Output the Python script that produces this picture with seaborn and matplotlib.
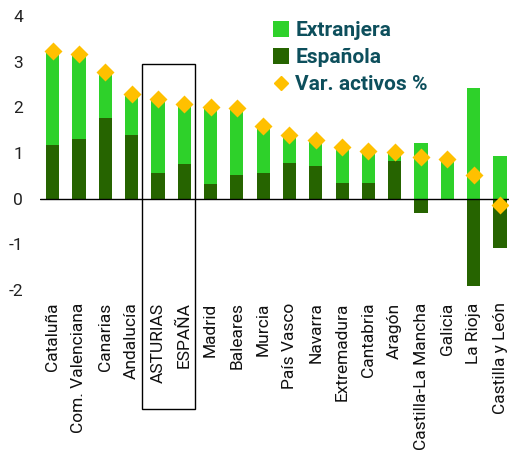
import numpy as np
import pandas as pd
import seaborn as sns
import matplotlib.pyplot as plt
from matplotlib.patches import Rectangle, Patch
from matplotlib.lines import Line2D

# ── Data ─────────────────────────────────────────────────────────────────
regiones = [
    "Cataluña", "Com. Valenciana", "Canarias", "Andalucía", "ASTURIAS",
    "ESPAÑA", "Madrid", "Baleares", "Murcia", "País Vasco", "Navarra",
    "Extremadura", "Cantabria", "Aragón", "Castilla-La Mancha", "Galicia",
    "La Rioja", "Castilla y León",
]
espanola = [1.18, 1.30, 1.76, 1.40, 0.56, 0.75, 0.32, 0.52, 0.56, 0.77,
            0.72, 0.35, 0.35, 0.82, -0.31, -0.02, -1.92, -1.08]
extranjera = [2.04, 1.86, 1.00, 0.89, 1.62, 1.32, 1.69, 1.46, 1.02, 0.63,
              0.57, 0.78, 0.71, 0.20, 1.22, 0.88, 2.41, 0.94]
var_activos = [3.22, 3.16, 2.76, 2.29, 2.18, 2.07, 2.01, 1.98, 1.58, 1.40,
               1.29, 1.13, 1.05, 1.02, 0.91, 0.86, 0.51, -0.14]

C_EXT = "#2ed12a"
C_ESP = "#266400"
C_VAR = "#ffc000"
C_LEG = "#0d4f5c"

df = pd.DataFrame({
    "region": regiones,
    "esp": espanola,
    "ext": extranjera,
    "var": var_activos,
})
# stacked look: light bar spans ext on top of positive esp
df["ext_top"] = df["ext"] + df["esp"].clip(lower=0)

sns.set_style("white")
plt.rcParams["font.family"] = ["Roboto", "DejaVu Sans"]
plt.rcParams["axes.unicode_minus"] = False

fig = plt.figure(figsize=(5.1, 4.53), dpi=100)
ax = fig.add_axes([0.078, 0.36, 0.922, 0.605])

sns.barplot(data=df, x="region", y="ext_top", color=C_EXT, width=0.5,
            saturation=1, linewidth=0, ax=ax)
sns.barplot(data=df, x="region", y="esp", color=C_ESP, width=0.5,
            saturation=1, linewidth=0, ax=ax)
sns.pointplot(data=df, x="region", y="var", color=C_VAR, marker="D",
              linestyle="none", markersize=7, ax=ax, zorder=5)

ax.axhline(0, color="black", lw=1.0, zorder=4)
ax.set_ylim(-2, 4)
ax.set_xlim(-0.49, 17.38)
ax.set_yticks(range(-2, 5))
ax.set_xlabel("")
ax.set_ylabel("")
for s in ax.spines.values():
    s.set_visible(False)
ax.tick_params(axis="y", length=0, labelsize=12.5, labelcolor="#222222", pad=12)
ax.tick_params(axis="x", length=0, labelsize=12.5, labelcolor="#111111", pad=9)
plt.setp(ax.get_xticklabels(), rotation=90, ha="center", va="top")

# box around ASTURIAS / ESPAÑA
ax.add_patch(Rectangle((3.4, -4.6), 2.0, 7.55, fill=False, ec="black",
                       lw=1.0, clip_on=False, zorder=6))

handles = [
    Patch(facecolor=C_EXT, edgecolor="none", label="Extranjera"),
    Patch(facecolor=C_ESP, edgecolor="none", label="Española"),
    Line2D([], [], marker="D", color=C_VAR, linestyle="none",
           markersize=7, label="Var. activos %"),
]
leg = ax.legend(handles=handles, loc="upper left",
                bbox_to_anchor=(0.497, 0.982), borderaxespad=0, borderpad=0,
                frameon=False, handlelength=0.75, handleheight=0.85,
                handletextpad=0.3, labelspacing=0.36,
                prop={"size": 15, "weight": "bold"})
for t in leg.get_texts():
    t.set_color(C_LEG)

fig.savefig("out.png", dpi=100, facecolor="white")
